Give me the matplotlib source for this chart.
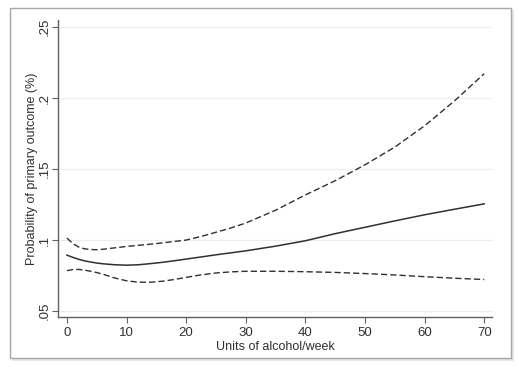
import matplotlib
matplotlib.use('Agg')
import matplotlib.pyplot as plt
from matplotlib.patches import Rectangle

plt.rcParams['font.family'] = ['Liberation Sans', 'DejaVu Sans']

# units of alcohol per week
units = [0, 1, 2, 3, 4, 5, 6, 8, 10, 12, 14, 16, 18, 20, 22.5, 25, 27.5, 30,
         35, 40, 45, 50, 55, 60, 65, 70]
# predicted probability
fit = [0.0894, 0.0878, 0.0864, 0.0853, 0.0845, 0.0838, 0.0833, 0.0826, 0.0823,
       0.0826, 0.0834, 0.0843, 0.0854, 0.0866, 0.0881, 0.0896, 0.0910, 0.0924,
       0.0957, 0.0995, 0.1045, 0.1090, 0.1135, 0.1178, 0.1217, 0.1255]
# upper / lower 95% CI
upper = [0.1014, 0.0975, 0.0950, 0.0938, 0.0933, 0.0932, 0.0935, 0.0945, 0.0955,
         0.0963, 0.0971, 0.0980, 0.0990, 0.1000, 0.1025, 0.1055, 0.1085, 0.1120,
         0.1210, 0.1318, 0.1418, 0.1530, 0.1655, 0.1805, 0.1980, 0.2172]
lower = [0.0785, 0.0792, 0.0793, 0.0788, 0.0780, 0.0771, 0.0760, 0.0733, 0.0713,
         0.0703, 0.0703, 0.0710, 0.0722, 0.0737, 0.0755, 0.0768, 0.0776, 0.0780,
         0.0780, 0.0777, 0.0772, 0.0764, 0.0754, 0.0742, 0.0731, 0.0722]

xticks = [0, 10, 20, 30, 40, 50, 60, 70]
yticks = [0.05, 0.10, 0.15, 0.20, 0.25]
ylabels = ['.05', '.1', '.15', '.2', '.25']

W, H = 519, 368
fig = plt.figure(figsize=(W / 100, H / 100), dpi=100)
fig.patch.set_facecolor('white')

# framed border with a soft shadow
fig.patches.append(Rectangle((12 / W, 1 - 361 / H), 502 / W, 351 / H,
                             transform=fig.transFigure, facecolor='#e6e6e6',
                             edgecolor='none', zorder=0))
fig.patches.append(Rectangle((10 / W, 1 - 358 / H), 501 / W, 350 / H,
                             transform=fig.transFigure, facecolor='white',
                             edgecolor='#a8a8a8', linewidth=1, zorder=1))

ax = fig.add_axes([58 / W, 1 - 317 / H, 434 / W, 297 / H])
ax.set_facecolor('none')
ax.set_zorder(2)

line_col = '#303030'
ax.plot(units, fit, color=line_col, lw=1.1)
ax.plot(units, upper, color=line_col, lw=1.0, dashes=(4.5, 2.2))
ax.plot(units, lower, color=line_col, lw=1.0, dashes=(4.5, 2.2))

ax.set_xlim(-1.5, 71.3)
ax.set_ylim(0.0458, 0.255)
ax.set_xticks(xticks)
ax.set_yticks(yticks)
ax.set_yticklabels(ylabels, rotation=90, va='center')
ax.grid(axis='y', color='#ededed', lw=0.9)
ax.set_axisbelow(True)

for s in ['top', 'right']:
    ax.spines[s].set_visible(False)
for s in ['left', 'bottom']:
    ax.spines[s].set_color('#606060')
    ax.spines[s].set_linewidth(1.0)
ax.tick_params(colors='#606060', labelcolor='#303030', labelsize=9.5,
               length=4, width=0.8)
ax.tick_params(axis='y', pad=1.5)

ax.set_xlabel('Units of alcohol/week', fontsize=9, color='#303030', labelpad=1)
ax.set_ylabel('Probability of primary outcome (%)', fontsize=9, color='#303030',
              labelpad=0)

fig.savefig('out.png', dpi=100)
